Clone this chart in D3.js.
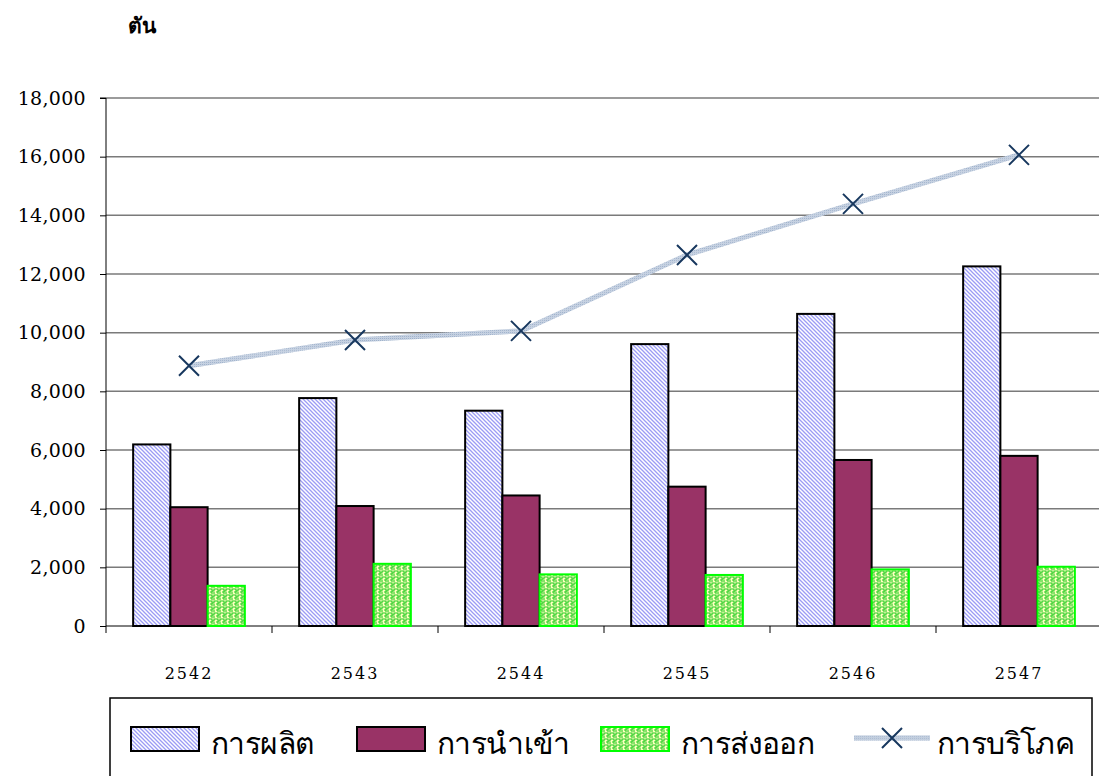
<!DOCTYPE html>
<html><head><meta charset="utf-8">
<script src="https://cdn.jsdelivr.net/npm/d3@7/dist/d3.min.js"></script>
<style>body{margin:0;background:#fff;}svg{display:block;}</style>
</head><body>
<script>
const years = ["2542","2543","2544","2545","2546","2547"];
const production = [6190, 7770, 7340, 9610, 10640, 12260];
const imports = [4050, 4090, 4450, 4750, 5660, 5800];
const exportsV = [1370, 2120, 1760, 1740, 1930, 2020];
const consumption = [8870, 9750, 10060, 12650, 14390, 16060];
const seriesNames = ["การผลิต", "การนำเข้า", "การส่งออก", "การบริโภค"];
const yTicks = [0, 2000, 4000, 6000, 8000, 10000, 12000, 14000, 16000, 18000];
const unitLabel = "ตัน";

const W = 1099, H = 776;
const svg = d3.select("body").append("svg").attr("width", W).attr("height", H);
const defs = svg.append("defs");

const p1 = defs.append("pattern").attr("id","pProd").attr("patternUnits","userSpaceOnUse")
  .attr("width",4).attr("height",4);
p1.append("rect").attr("width",4).attr("height",4).attr("fill","#fff");
p1.append("path").attr("d","M-1,-1 L5,5 M-1,3 L1,5 M3,-1 L5,1").attr("stroke","#9b9bf5").attr("stroke-width",1.3);

const p3 = defs.append("pattern").attr("id","pExp").attr("patternUnits","userSpaceOnUse")
  .attr("width",6).attr("height",6);
p3.append("rect").attr("width",6).attr("height",6).attr("fill","#ffffc0");
p3.append("path").attr("d","M0,1 H2 V3 H4 V1 H6 M0,4 H2 V6 M4,4 V6").attr("stroke","#22cc22").attr("stroke-width",1.1).attr("fill","none");

const p4 = defs.append("pattern").attr("id","pLine").attr("patternUnits","userSpaceOnUse")
  .attr("width",2).attr("height",2);
p4.append("rect").attr("width",2).attr("height",2).attr("fill","#c9d4e4");
p4.append("rect").attr("width",1).attr("height",1).attr("fill","#9fb2cc");

const pLeft = 106, pRight = 1102, pTop = 98, pBottom = 626;
const x = d3.scaleBand().domain(years).range([pLeft, pRight]).paddingInner(0.327).paddingOuter(0.1635);
const xs = d3.scaleBand().domain([0,1,2]).range([0, x.bandwidth()]);
const y = d3.scaleLinear().domain([0, 18000]).range([pBottom, pTop]);

svg.append("g").selectAll("line").data(yTicks.filter(d=>d>0)).join("line")
  .attr("x1", pLeft).attr("x2", W).attr("y1", d=>y(d)).attr("y2", d=>y(d))
  .attr("stroke","#7a7a7a").attr("stroke-width",1.5);

const yAxis = d3.axisLeft(y).tickValues(yTicks).tickSize(6).tickPadding(14)
  .tickFormat(d3.format(","));
const gy = svg.append("g").attr("transform",`translate(${pLeft},0)`).call(yAxis);
gy.select(".domain").attr("stroke","#000").attr("d",`M-6,${pTop}H0V${pBottom}`);
gy.selectAll(".tick line").attr("stroke","#000");
gy.selectAll("text").attr("font-family","DejaVu Serif").attr("font-size",19).attr("fill","#000")
  .attr("letter-spacing","0.3px");

const xAxis = d3.axisBottom(x).tickSize(0).tickPadding(42);
const gx = svg.append("g").attr("transform",`translate(0,${pBottom})`).call(xAxis);
gx.select(".domain").attr("stroke","#000").attr("stroke-width",1).attr("d",`M${pLeft},0H${W}`);
gx.selectAll("text").attr("font-family","DejaVu Serif").attr("font-size",16).attr("fill","#000")
  .attr("letter-spacing","2px");
svg.append("g").selectAll("line").data(years.concat(["end"])).join("line")
  .attr("x1",(d,i)=>pLeft + i*x.step()).attr("x2",(d,i)=>pLeft + i*x.step())
  .attr("y1",pBottom).attr("y2",pBottom+7).attr("stroke","#000");

const barSeries = [
  {vals: production, fill:"url(#pProd)", stroke:"#000"},
  {vals: imports, fill:"#993366", stroke:"#000"},
  {vals: exportsV, fill:"url(#pExp)", stroke:"#00ff00"}
];
barSeries.forEach((s, si) => {
  svg.append("g").selectAll("rect").data(years).join("rect")
    .attr("x", d => x(d) + xs(si))
    .attr("y", (d,i) => y(s.vals[i]))
    .attr("width", xs.bandwidth())
    .attr("height", (d,i) => y(0) - y(s.vals[i]))
    .attr("fill", s.fill).attr("stroke", s.stroke).attr("stroke-width", 2);
});

const line = d3.line().x((d,i)=>x(years[i]) + x.bandwidth()/2).y(d=>y(d));
svg.append("path").datum(consumption).attr("d", line).attr("fill","none")
  .attr("stroke","url(#pLine)").attr("stroke-width",5);
svg.append("path").datum(consumption).attr("d", line).attr("fill","none")
  .attr("stroke","#bfcbdc").attr("stroke-width",5).attr("stroke-dasharray","1 1").attr("opacity",0.6);
const m = 10;
svg.append("g").selectAll("path").data(consumption).join("path")
  .attr("d",(d,i)=>{const cx=x(years[i])+x.bandwidth()/2, cy=y(d);
    return `M${cx-m},${cy-m}L${cx+m},${cy+m}M${cx-m},${cy+m}L${cx+m},${cy-m}`;})
  .attr("stroke","#17375e").attr("stroke-width",2).attr("fill","none");

svg.append("text").attr("x",128).attr("y",33).text(unitLabel)
  .attr("font-family","Noto Sans, sans-serif").attr("font-size",21).attr("font-weight","bold").attr("fill","#000");

const lg = svg.append("g");
lg.append("rect").attr("x",110).attr("y",698).attr("width",982).attr("height",90)
  .attr("fill","#fff").attr("stroke","#000").attr("stroke-width",1.5);
const legendItems = [
  {name: seriesNames[0], x:131, type:"bar", fill:"url(#pProd)", stroke:"#000", tx:211},
  {name: seriesNames[1], x:357, type:"bar", fill:"#993366", stroke:"#000", tx:437},
  {name: seriesNames[2], x:601, type:"bar", fill:"url(#pExp)", stroke:"#00ff00", tx:681},
  {name: seriesNames[3], x:854, type:"line", tx:937}
];
legendItems.forEach(it => {
  if (it.type === "bar") {
    lg.append("rect").attr("x", it.x).attr("y",727).attr("width",68).attr("height",24)
      .attr("fill", it.fill).attr("stroke", it.stroke).attr("stroke-width",2);
  } else {
    lg.append("line").attr("x1",it.x).attr("x2",it.x+76).attr("y1",738).attr("y2",738)
      .attr("stroke","url(#pLine)").attr("stroke-width",5);
    lg.append("line").attr("x1",it.x).attr("x2",it.x+76).attr("y1",738).attr("y2",738)
      .attr("stroke","#bfcbdc").attr("stroke-width",5).attr("opacity",0.5);
    const cx = it.x+38, cy = 738;
    lg.append("path").attr("d",`M${cx-m},${cy-m}L${cx+m},${cy+m}M${cx-m},${cy+m}L${cx+m},${cy-m}`)
      .attr("stroke","#17375e").attr("stroke-width",2);
  }
  lg.append("text").attr("x", it.tx).attr("y", 754).text(it.name)
    .attr("font-family","Noto Sans, sans-serif").attr("font-size",30).attr("fill","#000")
    .attr("letter-spacing","-0.6px");
});
</script>
</body></html>
